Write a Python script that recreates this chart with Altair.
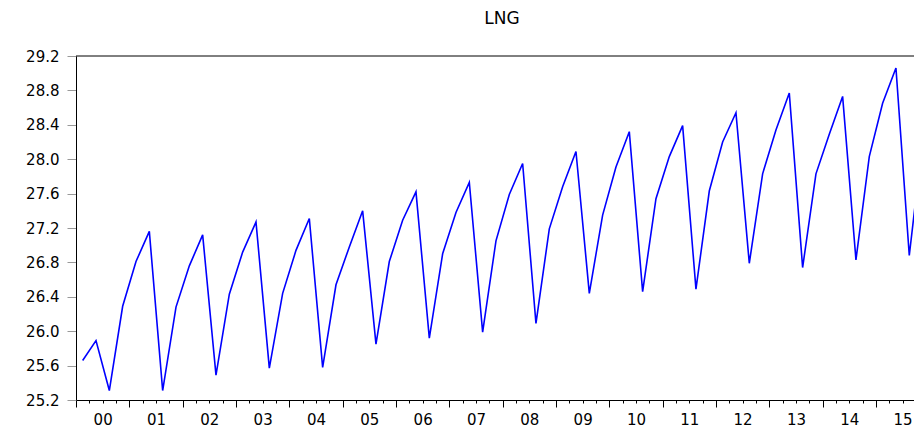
import altair as alt
import pandas as pd

years = list(range(2000, 2016))
quarters = [1, 2, 3, 4]
lng = [
    25.66, 25.89, 25.31, 26.29,
    26.81, 27.16, 25.31, 26.28,
    26.76, 27.12, 25.49, 26.43,
    26.92, 27.27, 25.57, 26.44,
    26.94, 27.31, 25.58, 26.54,
    26.98, 27.40, 25.85, 26.81,
    27.29, 27.62, 25.92, 26.90,
    27.38, 27.73, 25.99, 27.05,
    27.59, 27.95, 26.09, 27.19,
    27.68, 28.09, 26.44, 27.35,
    27.91, 28.32, 26.46, 27.54,
    28.03, 28.39, 26.49, 27.63,
    28.20, 28.54, 26.79, 27.83,
    28.34, 28.77, 26.74, 27.83,
    28.29, 28.73, 26.83, 28.03,
    28.65, 29.06, 26.88, 28.22,
]
y_ticks = [25.2, 25.6, 26.0, 26.4, 26.8, 27.2, 27.6, 28.0, 28.4, 28.8, 29.2]

rows = []
for i, yr in enumerate(years):
    for j, q in enumerate(quarters):
        rows.append({"t": yr + (q - 0.5) / 4, "lng": lng[i * 4 + j]})
df = pd.DataFrame(rows)

quarter_ticks = [yr + k / 4 for yr in years for k in range(4)]

W, H = 838, 344
PX_PER_YEAR = 53.33
x_domain = [2000, 2000 + W / PX_PER_YEAR]
FONT = "DejaVu Sans"
half_year_px = PX_PER_YEAR / 2

line = alt.Chart(df).mark_line(color="#0000FF", strokeWidth=1.6, clip=True).encode(
    x=alt.X(
        "t:Q",
        scale=alt.Scale(domain=x_domain, nice=False, zero=False),
        axis=alt.Axis(
            values=quarter_ticks,
            title=None,
            grid=False,
            domainColor="black",
            domainWidth=1,
            tickColor="black",
            tickSize={"condition": {"test": "datum.value % 1 === 0", "value": 7}, "value": 3},
            labelExpr="datum.value % 1 === 0 ? ((datum.value < 2010 ? '0' : '') + (datum.value - 2000)) : ''",
            labelOffset=half_year_px,
            labelFlush=False,
            labelOverlap=False,
            labelBound=False,
            labelPadding=5,
            labelFont=FONT,
            labelFontSize=15,
            labelColor="black",
        ),
    ),
    y=alt.Y(
        "lng:Q",
        scale=alt.Scale(domain=[25.2, 29.2], nice=False, zero=False),
        axis=alt.Axis(
            values=y_ticks,
            format=".1f",
            title=None,
            grid=False,
            domainColor="black",
            domainWidth=1,
            tickColor="#999999",
            tickSize=9,
            labelPadding=8,
            labelFont=FONT,
            labelFontSize=15,
            labelColor="black",
        ),
    ),
)

top = alt.Chart(pd.DataFrame({"a": [0]})).mark_rule(color="black", strokeWidth=1).encode(
    x=alt.value(0), x2=alt.value(W), y=alt.value(0)
)

chart = (
    alt.layer(line, top)
    .properties(
        width=W,
        height=H,
        autosize="none",
        padding={"left": 68, "top": 48, "right": 0, "bottom": 30},
        title=alt.Title(
            "LNG",
            font=FONT,
            fontSize=17,
            fontWeight="normal",
            color="black",
            frame="group",
            baseline="alphabetic",
            offset=8,
            dx=7,
        ),
    )
    .configure_view(stroke=None)
)

chart.save("out.html", embed_options={"renderer": "svg", "actions": False})
